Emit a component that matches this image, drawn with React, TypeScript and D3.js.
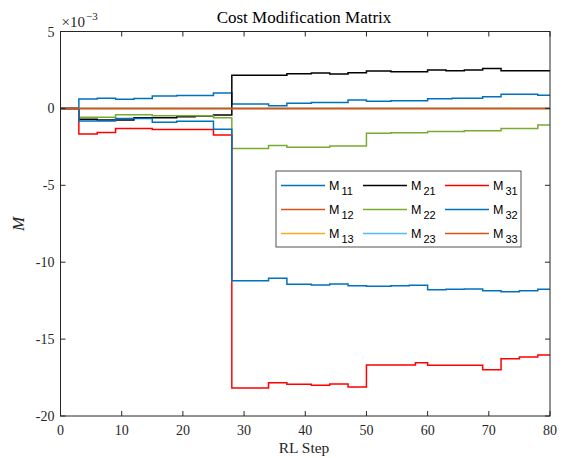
import { useMemo } from "react";
import * as d3 from "d3";

// change points [RL step, value x 1e-3]; stairs hold each value until the next step
const m11 = [[0, 0], [3, 0.61], [6, 0.66], [9, 0.59], [12, 0.64], [15, 0.8], [19, 0.84], [25, 1.0], [28, 0.29], [34, 0.18], [37, 0.33], [41, 0.39], [47, 0.55], [50, 0.46], [54, 0.5], [60, 0.63], [64, 0.66], [69, 0.76], [72, 0.92], [78, 0.85], [80, 0.85]];
const m12 = [[0, 0], [80, 0]];
const m13 = [[0, 0], [80, 0]];
const m21 = [[0, 0], [3, -0.71], [6, -0.75], [12, -0.6], [19, -0.55], [22, -0.5], [25, -0.43], [28, 2.15], [37, 2.26], [41, 2.3], [44, 2.24], [47, 2.32], [50, 2.43], [54, 2.39], [60, 2.5], [63, 2.45], [66, 2.5], [69, 2.6], [72, 2.45], [80, 2.45]];
const m22 = [[0, 0], [3, -0.58], [9, -0.41], [15, -0.47], [25, -0.6], [28, -2.6], [34, -2.42], [37, -2.53], [44, -2.45], [50, -1.62], [54, -1.58], [60, -1.51], [66, -1.45], [72, -1.3], [78, -1.08], [80, -1.08]];
const m23 = [[0, 0], [80, 0]];
const m31 = [[0, 0], [3, -1.67], [6, -1.56], [9, -1.3], [15, -1.38], [25, -1.73], [28, -18.18], [34, -17.83], [37, -17.94], [41, -18.0], [44, -17.92], [47, -18.11], [50, -16.68], [58, -16.53], [60, -16.7], [69, -16.99], [72, -16.27], [75, -16.16], [78, -16.03], [80, -16.03]];
const m32 = [[0, 0], [3, -0.82], [9, -0.65], [15, -0.9], [19, -0.84], [25, -1.36], [28, -11.2], [34, -11.05], [37, -11.44], [41, -11.48], [44, -11.42], [47, -11.53], [50, -11.57], [54, -11.53], [57, -11.5], [60, -11.79], [63, -11.76], [66, -11.74], [69, -11.85], [72, -11.92], [75, -11.85], [78, -11.76], [80, -11.76]];
const m33 = [[0, 0], [80, 0]];

const seriesNames = ["11", "12", "13", "21", "22", "23", "31", "32", "33"];
const seriesData = [m11, m12, m13, m21, m22, m23, m31, m32, m33];
const seriesColors = ["#0072BD", "#D95319", "#EDB120", "#000000", "#77AC30", "#4DBEEE", "#FF0000", "#0072BD", "#D95319"];

const xTicks = [0, 10, 20, 30, 40, 50, 60, 70, 80];
const yTicks = [-20, -15, -10, -5, 0, 5];

const width = 563;
const height = 458;
const margin = { top: 31.5, right: 13, bottom: 42, left: 60.5 };
const axisColor = "#262626";
const serif = "Liberation Serif, Times New Roman, serif";
const sans = "Liberation Sans, Arial, sans-serif";

export default function App() {
  const boundsWidth = width - margin.left - margin.right;
  const boundsHeight = height - margin.top - margin.bottom;

  const xScale = useMemo(() => d3.scaleLinear().domain([0, 80]).range([0, boundsWidth]), [boundsWidth]);
  const yScale = useMemo(() => d3.scaleLinear().domain([-20, 5]).range([boundsHeight, 0]), [boundsHeight]);

  const lineGen = d3
    .line<number[]>()
    .x((d) => xScale(d[0]))
    .y((d) => yScale(d[1]))
    .curve(d3.curveStepAfter);

  const lines = seriesData.map((d, i) => (
    <path key={i} d={lineGen(d) || ""} fill="none" stroke={seriesColors[i]} strokeWidth={1.5} />
  ));

  // legend: 3 columns, column-major order
  const legend = { x: 276, y: 171, w: 245, h: 76 };
  const legendItems = seriesNames.map((name, i) => {
    const col = Math.floor(i / 3);
    const row = i % 3;
    const lx = legend.x + 5 + col * 82;
    const ly = legend.y + 14.5 + row * 24;
    return (
      <g key={name}>
        <line x1={lx} x2={lx + 44} y1={ly} y2={ly} stroke={seriesColors[i]} strokeWidth={1.5} />
        <text x={lx + 48} y={ly + 4} fontFamily={sans} fontSize={12.5} fill="#000">
          M
          <tspan fontSize={11} dx={2} dy={5}>{name}</tspan>
        </text>
      </g>
    );
  });

  return (
    <svg width={width} height={height} style={{ position: "absolute", left: 0, top: 0, background: "#fff" }}>
      <g transform={`translate(${margin.left},${margin.top})`}>
        <g clipPath="url(#clip)">{lines}</g>
        <clipPath id="clip">
          <rect x={0} y={0} width={boundsWidth} height={boundsHeight} />
        </clipPath>

        {/* box and ticks */}
        <rect x={0} y={0} width={boundsWidth} height={boundsHeight} fill="none" stroke={axisColor} strokeWidth={1} />
        {xTicks.map((t) => (
          <g key={"x" + t}>
            <line x1={xScale(t)} x2={xScale(t)} y1={boundsHeight} y2={boundsHeight - 5} stroke={axisColor} />
            <line x1={xScale(t)} x2={xScale(t)} y1={0} y2={5} stroke={axisColor} />
            <text x={xScale(t)} y={boundsHeight + 19} textAnchor="middle" fontFamily={serif} fontSize={14} fill={axisColor}>
              {t}
            </text>
          </g>
        ))}
        {yTicks.map((t) => (
          <g key={"y" + t}>
            <line x1={0} x2={5} y1={yScale(t)} y2={yScale(t)} stroke={axisColor} />
            <line x1={boundsWidth} x2={boundsWidth - 5} y1={yScale(t)} y2={yScale(t)} stroke={axisColor} />
            <text x={-6} y={yScale(t) + 5} textAnchor="end" fontFamily={serif} fontSize={14} fill={axisColor}>
              {t < 0 ? "-" + Math.abs(t) : t}
            </text>
          </g>
        ))}

        {/* exponent */}
        <text x={1} y={-5} fontFamily={serif} fontSize={15} fill={axisColor}>
          ×10
          <tspan fontSize={11} dx={1} dy={-7}>−3</tspan>
        </text>

        {/* legend */}
        <rect x={legend.x - margin.left} y={legend.y - margin.top} width={legend.w} height={legend.h} fill="#fff" stroke={axisColor} strokeWidth={0.8} />
        <g transform={`translate(${-margin.left},${-margin.top})`}>{legendItems}</g>
      </g>

      <text x={304} y={23} textAnchor="middle" fontFamily={serif} fontSize={17} fill="#000">
        Cost Modification Matrix
      </text>
      <text x={304} y={453} textAnchor="middle" fontFamily={serif} fontSize={15.5} fill={axisColor}>
        RL Step
      </text>
      <text transform="translate(24,224) rotate(-90)" textAnchor="middle" fontFamily={serif} fontStyle="italic" fontSize={17} fill={axisColor}>
        M
      </text>
    </svg>
  );
}
